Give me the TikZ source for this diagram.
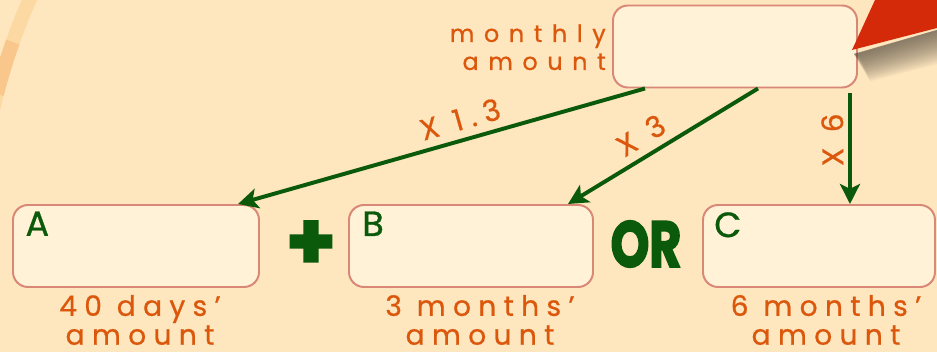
\documentclass[tikz,border=0pt]{standalone}
\usepackage{fontspec}
\setmainfont{Poppins}
\newfontfamily\widefont{Poppins}[LetterSpace=40, FakeBold=0.7]
\newfontfamily\spacefont{Poppins}[LetterSpace=26, FakeBold=0.7]
\newfontfamily\letterfont{Poppins}[FakeBold=0.8]
\newfontfamily\heavyfont{Poppins}[BoldFeatures={FakeBold=3}]
\usetikzlibrary{arrows.meta}

\definecolor{bgpeach}{HTML}{FEE6BE}
\definecolor{bandpeach}{HTML}{FCD9A2}
\definecolor{bandorange}{HTML}{F9C68C}
\definecolor{boxfill}{HTML}{FFF2D7}
\definecolor{boxline}{HTML}{D98878}
\definecolor{txtorange}{HTML}{DB570B}
\definecolor{leafgreen}{HTML}{0B5A0B}
\definecolor{pointred}{HTML}{D42A0A}
\definecolor{shadowgray}{HTML}{4F463C}

\begin{document}
\begin{tikzpicture}[
    every node/.style={inner sep=0pt},
    amountbox/.style={rectangle, rounded corners=0.375cm, draw=boxline, line width=1.4pt,
                      fill=boxfill, minimum height=2.05cm},
    boxletter/.style={font=\letterfont\fontsize{25}{25}\selectfont, text=leafgreen, anchor=north west},
    caption/.style={font=\spacefont\fontsize{20}{20.5}\selectfont, text=txtorange, align=center,
                    text depth=0pt},
    monthtext/.style={font=\widefont\fontsize{17}{19.9}\selectfont, text=txtorange, align=right},
    factor/.style={font=\spacefont\fontsize{21}{21}\selectfont, text=txtorange},
    multarrow/.style={draw=leafgreen, line width=2.8pt,
                      -{Stealth[length=0.5cm, width=0.5cm, inset=0.12cm]}},
    joiner/.style={text=leafgreen}
]
  \useasboundingbox (0,0) rectangle (23.425,8.8);
  \fill[bgpeach] (0,0) rectangle (23.425,8.8);

  % background band on the left
  \begin{scope}
    \clip (0,0) rectangle (23.425,8.8);
    \draw[bandpeach, line width=0.35cm] (15,2.55) ++(150:15.575)
      arc[start angle=150, end angle=195, radius=15.575];
    \draw[bandorange, line width=0.35cm] (15,2.55) ++(160.5:15.575)
      arc[start angle=160.5, end angle=165.5, radius=15.575];
  \end{scope}

  % monthly amount
  \node[amountbox, minimum width=6.1cm] (monthly) at (18.375, 7.6375) {};
  \node[monthtext, anchor=east] (monthly-lbl) at (15.15, 7.62) {monthly\\amount};

  % pointer and its soft shadow
  \foreach \d in {0.05,0.1,...,0.9}
    \fill[shadowgray, opacity=0.055]
      (21.35, 7.45) -- (23.425, 8.05) -- (23.425, 8.05-\d) -- (21.5+0.3*\d, 7.45-0.8*\d) -- cycle;
  \fill[pointred] (21.3, 7.55) -- (21.875, 8.8) -- (23.425, 8.8) -- (23.425, 8.1) -- cycle;

  % the three options
  \node[amountbox, minimum width=6.15cm] (box-a) at (3.4, 2.65) {};
  \node[amountbox, minimum width=6.1cm]  (box-b) at (11.775, 2.65) {};
  \node[amountbox, minimum width=5.8cm]  (box-c) at (20.475, 2.65) {};

  \node[boxletter] (a-lbl) at ([xshift=0.33cm, yshift=-0.18cm]box-a.north west) {A};
  \node[boxletter] (b-lbl) at ([xshift=0.35cm, yshift=-0.18cm]box-b.north west) {B};
  \node[boxletter] (c-lbl) at ([xshift=0.3cm, yshift=-0.2cm]box-c.north west) {C};

  \node[caption, anchor=north] (a-cap) at (3.5, 1.43) {40 days’\\amount};
  \node[caption, anchor=north] (b-cap) at (12.0, 1.43) {3 months’\\amount};
  \node[caption, anchor=north] (c-cap) at (20.65, 1.43) {6 months’\\amount};

  \node[joiner, font=\heavyfont\bfseries\fontsize{56}{56}\selectfont] (plus) at (7.775, 2.67) {+};
  \node[joiner, font=\heavyfont\bfseries\fontsize{46}{46}\selectfont] (or) at (16.15, 2.7)
    {\scalebox{0.76}[1]{OR}};

  % multipliers
  \draw[multarrow] ([xshift=0.825cm]monthly.south west)
    -- node[factor, sloped, above=0.2cm, pos=0.44] (f-a) {X 1.3}
    ([xshift=-0.55cm]box-a.north east);
  \draw[multarrow] ([xshift=0.575cm]monthly.south)
    -- node[factor, sloped, above=0.2cm, pos=0.56] (f-b) {X 3}
    ([xshift=-0.65cm]box-b.north east);
  \coordinate (six-top) at ([xshift=-0.2cm, yshift=-0.12cm]monthly.south east);
  \draw[multarrow] (six-top)
    -- node[factor, rotate=90, anchor=south, pos=0.42, yshift=0.12cm] (f-c) {X 6}
    (six-top |- box-c.north);
\end{tikzpicture}
\end{document}
